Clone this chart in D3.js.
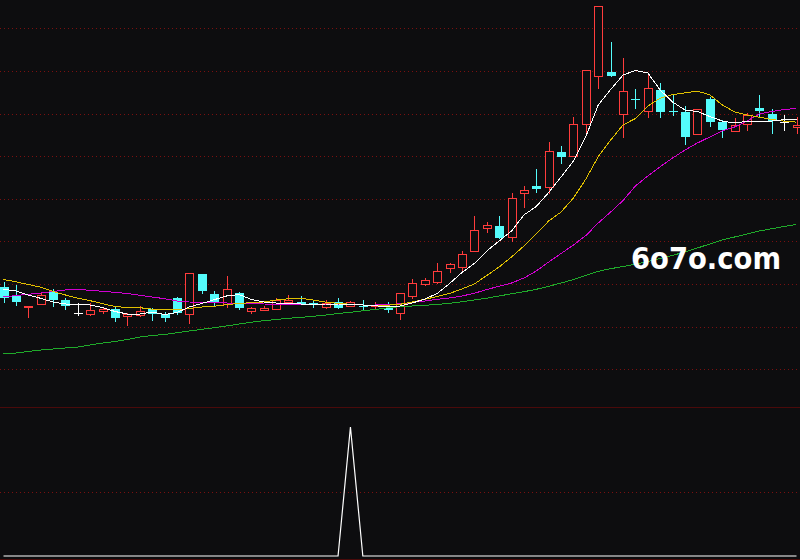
<!DOCTYPE html>
<html><head><meta charset="utf-8">
<script src="https://cdn.jsdelivr.net/npm/d3@7"></script>
<style>html,body{margin:0;padding:0;background:#0d0d0f;overflow:hidden}</style>
</head><body><svg id="c" width="800" height="560"></svg>
<script>
// ---- data ----
const open  = [21.3,20.5,19.33,19.6,20.8,20.0,18.7,18.6,18.9,19.1,18.4,18.5,19.1,18.6,20.2,18.6,22.6,20.6,19.6,20.7,18.9,19.0,19.1,19.85,19.8,19.7,19.3,19.8,19.4,19.45,19.45,19.2,18.7,20.4,21.6,21.8,23.2,23.3,24.9,27.2,27.4,26.3,30.7,31.4,31.3,34.8,34.4,37.6,42.4,42.8,38.6,40.1,38.95,41.0,38.95,38.8,36.6,40.1,37.8,36.9,37.6,39.2,38.6,37.8,37.3];
const high  = [21.8,21.5,19.45,20.7,21.1,20.2,19.7,19.7,19.2,19.3,18.7,19.4,19.2,18.8,20.3,22.7,22.6,20.9,22.4,20.8,19.3,19.4,20.2,20.5,20.4,20.0,20.0,20.2,19.9,20.0,19.8,19.8,20.7,22.1,22.2,23.7,23.7,24.9,28.4,27.8,28.4,30.7,31.4,33.1,35.8,35.4,38.3,43.0,49.4,45.8,44.2,41.1,42.7,41.7,40.5,39.4,39.1,40.3,38.0,38.2,38.7,40.5,39.1,38.5,38.3];
const low   = [19.8,19.5,18.3,19.6,19.4,19.1,18.5,18.5,18.7,17.9,17.5,18.4,18.0,17.9,18.6,17.7,20.7,19.4,19.3,19.1,18.7,19.0,19.1,19.8,19.6,19.3,19.2,19.2,19.4,19.1,19.2,18.85,18.1,20.2,21.5,21.7,22.8,22.9,24.9,26.8,26.2,25.9,29.3,30.8,30.7,33.7,34.4,36.5,41.2,42.4,36.3,39.2,38.3,38.3,38.5,35.6,36.6,37.4,36.3,36.9,37.0,38.4,36.7,37.0,36.7];
const close = [20.2,19.8,19.4,20.5,20.0,19.4,18.7,19.0,19.1,18.2,18.6,18.9,18.6,18.2,18.7,22.7,20.9,19.85,21.1,19.2,19.2,19.2,20.0,20.05,19.6,19.6,19.7,19.25,19.8,19.3,19.55,19.05,20.7,21.7,22.0,22.9,23.6,24.6,27.0,27.5,26.2,30.2,31.0,31.1,34.9,34.3,37.6,43.0,49.4,42.4,40.9,40.0,41.2,38.8,38.85,36.3,39.1,37.8,37.0,37.5,38.5,38.9,37.9,37.8,37.5];
const ma5   = [21.07,20.9,20.5,20.17,19.8,19.6,19.57,19.5,19.25,18.85,18.6,18.6,18.8,18.55,18.75,19.3,19.65,20.03,20.4,20.55,20.05,19.8,19.7,19.65,19.6,19.55,19.6,19.6,19.57,19.5,19.43,19.3,19.4,19.7,20.1,20.65,21.65,22.75,23.65,24.9,25.9,26.9,28.5,29.35,30.75,32.3,33.9,36.35,39.5,41.05,42.5,42.95,42.7,41.0,39.8,39.0,38.85,38.35,37.9,37.7,37.87,37.9,37.9,38.03,38.08];
const ma10  = [22.05,21.82,21.55,21.28,20.85,20.5,20.18,19.93,19.63,19.35,19.24,19.23,19.09,19.03,19.0,19.15,19.3,19.37,19.53,19.66,19.73,19.8,20.0,20.12,20.17,20.0,19.78,19.67,19.57,19.5,19.47,19.48,19.57,19.8,20.07,20.35,20.66,21.1,21.6,22.45,23.3,24.3,25.4,26.6,27.9,28.8,30.2,32.1,34.34,36.0,37.5,38.15,39.4,40.18,40.54,40.72,40.88,40.52,39.52,38.82,38.5,38.28,38.05,37.89,37.79];
const ma20  = [20.3,20.45,20.57,20.7,20.85,21.0,21.05,20.97,20.87,20.77,20.65,20.47,20.3,20.13,19.9,19.8,19.78,19.75,19.7,19.67,19.64,19.6,19.58,19.56,19.55,19.54,19.53,19.52,19.51,19.5,19.5,19.52,19.62,19.75,19.9,20.07,20.2,20.4,20.67,21.05,21.37,21.7,22.2,22.9,23.8,24.65,25.5,26.45,27.7,28.8,29.95,31.4,32.4,33.33,34.2,35.0,35.7,36.3,36.9,37.3,37.9,38.6,38.85,39.05,39.15];
const ma60  = [14.6,14.7,14.85,15.0,15.1,15.2,15.3,15.5,15.7,15.85,16.05,16.3,16.45,16.55,16.73,16.9,17.07,17.23,17.4,17.6,17.78,17.93,18.05,18.17,18.27,18.37,18.5,18.65,18.77,18.92,19.05,19.22,19.33,19.4,19.47,19.55,19.67,19.83,20.0,20.18,20.4,20.63,20.83,21.07,21.37,21.7,22.05,22.45,22.87,23.13,23.35,23.58,23.85,24.15,24.47,24.8,25.2,25.6,26.0,26.3,26.6,26.9,27.13,27.35,27.55];
const signal = [0,0,0,0,0,0,0,0,0,0,0,0,0,0,0,0,0,0,0,0,0,0,0,0,0,0,0,0,100,0,0,0,0,0,0,0,0,0,0,0,0,0,0,0,0,0,0,0,0,0,0,0,0,0,0,0,0,0,0,0,0,0,0,0,0];
const gridTicks = [47.16,42.9,38.64,34.38,30.12,25.86,21.6,17.34,13.08];
const signalTicks = [50];
const watermark = "6o7o.com";

// ---- drawing ----
const BG = "#0d0d0f", RED = "#ff3c3c", CYAN = "#54fcfc";
const svg = d3.select("#c");
svg.append("rect").attr("width", 800).attr("height", 560).attr("fill", BG);

const x = d3.scaleLinear().domain([0, open.length - 1]).range([3.5, 796.5]);
const y = d3.scaleLinear().domain([9.3, 50]).range([407, 0]);
const yi = d3.scaleLinear().domain([0, 100]).range([556, 427]);
const px = v => Math.round(v) + 0.5;

// grid
svg.append("g").selectAll("line").data(gridTicks).join("line")
  .attr("x1", 0).attr("x2", 800)
  .attr("y1", d => px(y(d))).attr("y2", d => px(y(d)))
  .attr("stroke", "#7a1010").attr("stroke-dasharray", "1,3").attr("shape-rendering", "crispEdges");
svg.append("g").selectAll("line").data(signalTicks).join("line")
  .attr("x1", 0).attr("x2", 800)
  .attr("y1", d => px(yi(d))).attr("y2", d => px(yi(d)))
  .attr("stroke", "#7a1010").attr("stroke-dasharray", "1,3").attr("shape-rendering", "crispEdges");
// panel separators
svg.append("line").attr("x1", 0).attr("x2", 800).attr("y1", px(y(9.3))).attr("y2", px(y(9.3)))
  .attr("stroke", "#4a0a0a").attr("shape-rendering", "crispEdges");
svg.append("line").attr("x1", 0).attr("x2", 800).attr("y1", 559.5).attr("y2", 559.5)
  .attr("stroke", "#4a0a0a").attr("shape-rendering", "crispEdges");

// candles
const g = svg.append("g").attr("shape-rendering", "crispEdges");
open.forEach((o, i) => {
  const c = close[i], h = high[i], l = low[i];
  const cx = Math.round(x(i));
  const top = Math.round(y(Math.max(o, c))), bot = Math.round(y(Math.min(o, c)));
  const yh = Math.round(y(h)), yl = Math.round(y(l));
  if (c > o) {
    if (yh < top) g.append("line").attr("x1", cx + 0.5).attr("x2", cx + 0.5).attr("y1", yh).attr("y2", top).attr("stroke", RED);
    if (yl > bot) g.append("line").attr("x1", cx + 0.5).attr("x2", cx + 0.5).attr("y1", bot).attr("y2", yl + 1).attr("stroke", RED);
    g.append("rect").attr("x", cx - 3.5).attr("y", top + 0.5).attr("width", 8).attr("height", Math.max(bot - top, 1))
      .attr("fill", BG).attr("stroke", RED);
  } else if (c < o) {
    g.append("line").attr("x1", cx + 0.5).attr("x2", cx + 0.5).attr("y1", yh).attr("y2", yl + 1).attr("stroke", CYAN);
    g.append("rect").attr("x", cx - 4).attr("y", top).attr("width", 9).attr("height", Math.max(bot - top, 1)).attr("fill", CYAN);
  } else {
    g.append("line").attr("x1", cx + 0.5).attr("x2", cx + 0.5).attr("y1", yh).attr("y2", yl + 1).attr("stroke", "#ffffff");
    g.append("line").attr("x1", cx - 4).attr("x2", cx + 5).attr("y1", top + 0.5).attr("y2", top + 0.5).attr("stroke", "#ffffff");
  }
});

// moving averages
const line = d3.line().x((d, i) => x(i)).y(d => y(d));
[[ma60, "#1faa2a"], [ma20, "#d000d0"], [ma10, "#e0c000"], [ma5, "#ffffff"]].forEach(([s, col]) => {
  svg.append("path").datum(s).attr("d", line).attr("fill", "none").attr("stroke", col)
    .attr("stroke-width", 1).attr("shape-rendering", "crispEdges");
});

// signal panel
const sline = d3.line().x((d, i) => x(i)).y(d => yi(d));
svg.append("path").datum(signal).attr("d", sline).attr("fill", "none").attr("stroke", "#ffffff")
  .attr("stroke-width", 1.2);

// watermark
svg.append("text").attr("x", 631).attr("y", 269).text(watermark)
  .attr("fill", "#ffffff").attr("font-family", "DejaVu Sans").attr("font-weight", "bold")
  .attr("font-size", 30).attr("textLength", 150).attr("lengthAdjust", "spacingAndGlyphs");
</script></body></html>
